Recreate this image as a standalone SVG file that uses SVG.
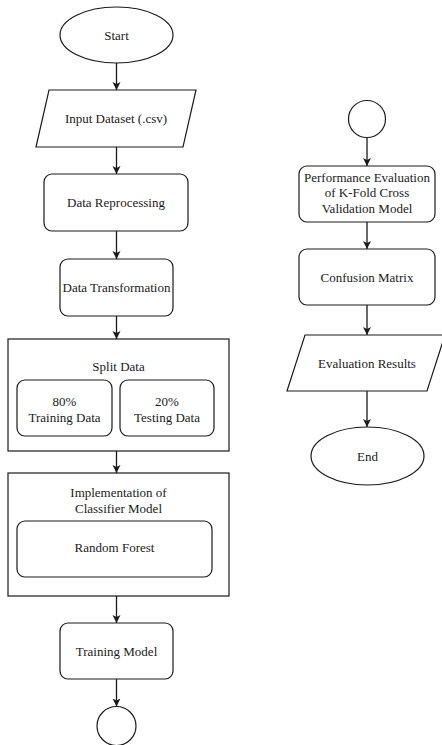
<svg xmlns="http://www.w3.org/2000/svg" width="442" height="745" viewBox="0 0 442 745">
<style>
.s{fill:#fff;stroke:#1a1a1a;stroke-width:1.2}
.t{font-family:'Liberation Serif',Tinos,'Times New Roman',Times,serif;font-size:13px;fill:#1a1a1a;text-anchor:middle}
.c{fill:none;stroke:#1a1a1a;stroke-width:1.3}
</style>
<defs>
<marker id="ah" markerUnits="userSpaceOnUse" markerWidth="10" markerHeight="10" refX="8" refY="4" orient="auto">
<path d="M0,0 L8,4 L0,8 L2,4 Z" fill="#1a1a1a"/>
</marker>
</defs>
<rect width="442" height="745" fill="#fff"/>
<g id="connectors">
<line class="c" x1="116.5" y1="63" x2="116.5" y2="90" marker-end="url(#ah)"/>
<line class="c" x1="116.5" y1="147" x2="116.5" y2="174" marker-end="url(#ah)"/>
<line class="c" x1="116.5" y1="231" x2="116.5" y2="259" marker-end="url(#ah)"/>
<line class="c" x1="116.5" y1="316" x2="116.5" y2="339" marker-end="url(#ah)"/>
<line class="c" x1="116.5" y1="451" x2="116.5" y2="473" marker-end="url(#ah)"/>
<line class="c" x1="116.5" y1="596" x2="116.5" y2="623" marker-end="url(#ah)"/>
<line class="c" x1="116.5" y1="679" x2="116.5" y2="706.5" marker-end="url(#ah)"/>
<line class="c" x1="367" y1="137.5" x2="367" y2="166" marker-end="url(#ah)"/>
<line class="c" x1="367" y1="222" x2="367" y2="249" marker-end="url(#ah)"/>
<line class="c" x1="367" y1="305" x2="367" y2="335" marker-end="url(#ah)"/>
<line class="c" x1="367" y1="391" x2="367" y2="427" marker-end="url(#ah)"/>
</g>
<g id="start">
<ellipse class="s" cx="116.5" cy="35" rx="56.5" ry="28"/>
<text class="t" x="116.5" y="39.5">Start</text>
</g>
<g id="input">
<polygon class="s" points="49,90 196,90 183,147 36,147"/>
<text class="t" x="116" y="122.5">Input Dataset (.csv)</text>
</g>
<g id="reprocessing">
<rect class="s" x="44" y="174" width="144" height="57" rx="8"/>
<text class="t" x="116" y="206.5">Data Reprocessing</text>
</g>
<g id="transformation">
<rect class="s" x="60" y="259" width="113" height="57" rx="8"/>
<text class="t" x="116.5" y="291.5">Data Transformation</text>
</g>
<g id="split">
<rect class="s" x="8" y="339" width="221" height="112"/>
<text class="t" x="118.5" y="370.5">Split Data</text>
</g>
<g id="training-data">
<rect class="s" x="17" y="380" width="95" height="56" rx="8"/>
<text class="t" x="64.5" y="406">80%</text>
<text class="t" x="64.5" y="421.5">Training Data</text>
</g>
<g id="testing-data">
<rect class="s" x="120" y="380" width="94" height="56" rx="8"/>
<text class="t" x="167" y="406">20%</text>
<text class="t" x="167" y="421.5">Testing Data</text>
</g>
<g id="classifier">
<rect class="s" x="8" y="473" width="221" height="123"/>
<text class="t" x="118.5" y="497">Implementation of</text>
<text class="t" x="118.5" y="513">Classifier Model</text>
</g>
<g id="random-forest">
<rect class="s" x="17" y="521" width="195" height="56" rx="8"/>
<text class="t" x="114.5" y="551.5">Random Forest</text>
</g>
<g id="training-model">
<rect class="s" x="60" y="623" width="113" height="56" rx="8"/>
<text class="t" x="116.5" y="655.5">Training Model</text>
</g>
<g id="connector-a">
<circle class="s" cx="116.5" cy="726" r="19.5"/>
</g>
<g id="connector-b">
<circle class="s" cx="367" cy="119" r="18.5"/>
</g>
<g id="performance">
<rect class="s" x="299" y="166" width="136" height="56" rx="8"/>
<text class="t" x="367" y="181.5">Performance Evaluation</text>
<text class="t" x="367" y="197">of K-Fold Cross</text>
<text class="t" x="367" y="212.5">Validation Model</text>
</g>
<g id="confusion">
<rect class="s" x="299" y="249" width="136" height="56" rx="8"/>
<text class="t" x="367" y="281.5">Confusion Matrix</text>
</g>
<g id="results">
<polygon class="s" points="305,335 445,335 427,391 287,391"/>
<text class="t" x="367" y="367.5">Evaluation Results</text>
</g>
<g id="end">
<ellipse class="s" cx="367.5" cy="456" rx="56.5" ry="29"/>
<text class="t" x="367.5" y="460.5">End</text>
</g>
</svg>
